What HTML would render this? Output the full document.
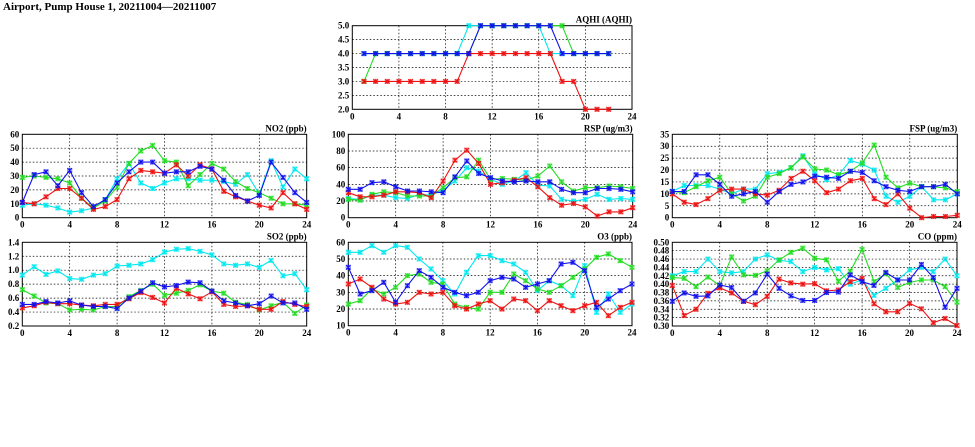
<!DOCTYPE html>
<html><head><meta charset="utf-8"><style>
html,body{margin:0;padding:0;background:#fff;}
svg{display:block;}
text{font-family:"Liberation Serif",serif;font-weight:bold;fill:#000;}
</style></head><body>
<svg id="chart" width="975" height="447" viewBox="0 0 975 447">
<text x="3" y="10" font-size="11">Airport, Pump House 1, 20211004—20211007</text>
</svg>
<script>
const hours=[0,1,2,3,4,5,6,7,8,9,10,11,12,13,14,15,16,17,18,19,20,21,22,23,24];
const xTicks=[0,4,8,12,16,20,24];
// AQHI
const aqhiRed=[null,3,3,3,3,3,3,3,3,3,4,4,4,4,4,4,4,4,3,3,2,2,2,null,null];
const aqhiGreen=[null,3,4,4,4,4,4,4,4,4,4,5,5,5,5,5,5,5,5,4,4,4,4,null,null];
const aqhiCyan=[null,4,4,4,4,4,4,4,4,4,5,5,5,5,5,5,5,4,4,4,4,4,4,null,null];
const aqhiBlue=[null,4,4,4,4,4,4,4,4,4,4,5,5,5,5,5,5,5,4,4,4,4,4,null,null];
const aqhiTicks=[2.0,2.5,3.0,3.5,4.0,4.5,5.0];
// NO2
const no2Cyan=[9,10,9,7,4,5,7,13,28,39,25,21,25,28,28,27,27,26,24,31,17,41,22,35,28];
const no2Green=[29,30,29,28,25,14,7,12,22,39,48,52,41,40,23,31,39,35,26,21,18,14,10,10,9];
const no2Red=[11,10,15,21,21,14,6,8,13,28,34,33,32,38,30,38,35,19,15,12,9,7,18,10,6];
const no2Blue=[11,31,33,23,34,18,8,13,25,33,40,40,32,33,33,37,35,27,16,12,16,40,29,18,11];
const no2Ticks=[0,10,20,30,40,50,60];
// RSP
const rspCyan=[23,22,27,27,24,23,28,27,33,44,60,56,46,40,44,54,39,38,22,20,22,28,22,23,22];
const rspGreen=[22,21,28,31,30,26,26,26,36,48,49,69,46,47,46,45,50,62,43,32,36,36,38,37,35];
const rspRed=[30,25,25,27,31,31,30,24,44,69,81,65,40,42,45,48,37,24,15,17,13,2,7,7,12];
const rspBlue=[34,34,42,43,37,32,32,31,30,49,68,53,48,44,43,44,43,43,34,30,30,35,35,34,31];
const rspTicks=[0,20,40,60,80,100];
// FSP
const fspCyan=[11,13.5,13.5,13.5,12,10,12,12,18.5,19,21,26,18.5,16,18,24,22.5,20,9,6.5,9,13,7.5,7.5,10];
const fspGreen=[11,10.5,13,15.5,17,10,7,9,17,18.5,21,25.5,20.5,20,18,19.5,23,30.5,17,12.5,14.5,13,13,12.5,11];
const fspRed=[10,6.5,5.5,8,11.5,12,12,10,9.5,11.5,16.5,19.5,15.5,10.5,12,15.5,16.5,8,5.5,10,4,0,0.5,0.5,1];
const fspBlue=[11,11,18,18,14,9,10,11,6.5,11,14,15,17.5,17,16.5,19.5,19,15.5,13,11.5,11,13,13,14,10];
const fspTicks=[0,5,10,15,20,25,30,35];
// SO2
const so2Cyan=[.93,1.05,.94,.99,.88,.87,.93,.95,1.06,1.07,1.09,1.15,1.26,1.30,1.31,1.27,1.22,1.09,1.07,1.09,1.04,1.14,.92,.95,.72];
const so2Green=[.72,.63,.53,.52,.43,.44,.43,.48,.48,.62,.71,.80,.64,.67,.71,.79,.70,.67,.54,.51,.43,.49,.54,.38,.50];
const so2Red=[.46,.49,.54,.52,.52,.50,.49,.51,.51,.59,.68,.61,.53,.74,.66,.59,.69,.51,.48,.49,.44,.44,.55,.51,.48];
const so2Blue=[.51,.51,.55,.53,.56,.50,.48,.48,.45,.60,.70,.82,.76,.78,.83,.82,.70,.56,.53,.49,.52,.63,.53,.53,.44];
const so2Ticks=[0.2,0.4,0.6,0.8,1.0,1.2,1.4];
// O3
const o3Cyan=[54,54,58,54,58,57,50,44,37,29,42,52,52,49,47,42,31,37,34,28,46,18,29,18,23];
const o3Green=[23,25,32,29,33,40,41,36,35,23,21,20,30,30,41,37,32,30,34,39,44,51,53,49,45];
const o3Red=[35,38,33,26,23,24,30,29,30,22,20,23,25,20,26,25,19,25,22,19,22,24,16,21,24];
const o3Blue=[45,29,31,36,24,34,43,39,33,30,28,30,37,39,38,33,35,37,47,48,43,21,26,31,35];
const o3Ticks=[10,20,30,40,50,60];
// CO
const coCyan=[.42,.43,.43,.46,.43,.427,.43,.46,.47,.457,.454,.43,.44,.434,.437,.40,.41,.373,.39,.41,.434,.44,.43,.46,.42];
const coGreen=[.416,.414,.394,.417,.396,.465,.422,.421,.432,.458,.476,.486,.462,.458,.407,.431,.483,.406,.425,.392,.404,.41,.41,.394,.357];
const coRed=[.397,.325,.34,.378,.391,.379,.359,.351,.371,.412,.403,.4,.401,.384,.386,.406,.414,.353,.334,.334,.354,.341,.308,.318,.301];
const coBlue=[.359,.379,.371,.372,.398,.392,.359,.379,.424,.39,.372,.361,.361,.38,.381,.422,.406,.397,.428,.41,.41,.447,.416,.345,.39];
const coTicks=[0.30,0.32,0.34,0.36,0.38,0.40,0.42,0.44,0.46,0.48,0.50];

const NS='http://www.w3.org/2000/svg';
const svg=document.getElementById('chart');
function mk(tag,attrs,parent){const e=document.createElementNS(NS,tag);for(const k in attrs)e.setAttribute(k,attrs[k]);(parent||svg).appendChild(e);return e;}
const COLORS={cyan:'#00e8f0',green:'#22dd22',red:'#ee1111',blue:'#1111ee'};

function panel(name,title,box,ticks,dec,series){
  const g=mk('g',{});
  
  
  const [L,T,R,B]=box;
  const ymin=ticks[0],ymax=ticks[ticks.length-1];
  const sx=v=>L+(v-0)/(24-0)*(R-L);
  const sy=v=>B-(v-ymin)/(ymax-ymin)*(B-T);
  ticks.forEach((t,i)=>{
    const y=sy(t);
    if(i>0&&i<ticks.length-1){const gl=mk('line',{x1:L,x2:R,y1:y,y2:y,stroke:'#000','stroke-width':0.7,'stroke-dasharray':'1.5,2'},g);
      }
    const tl=mk('text',{x:L-3,y:y+3,'font-size':9,'text-anchor':'end'},g);
    tl.textContent=t.toFixed(dec);
    
    
  });
  xTicks.forEach((t,i)=>{
    const x=sx(t);
    if(i>0&&i<xTicks.length-1){const gl=mk('line',{x1:x,x2:x,y1:T,y2:B,stroke:'#000','stroke-width':0.7,'stroke-dasharray':'1.5,2'},g);
      }
    const tl=mk('text',{x:x,y:B+10,'font-size':9,'text-anchor':'middle'},g);
    tl.textContent=t;
    
    
  });
  const fr=mk('rect',{x:L,y:T,width:R-L,height:B-T,fill:'none',stroke:'#000','stroke-width':1},g);
  
  
  const tt=mk('text',{x:R,y:T-3,'font-size':9,'text-anchor':'end'},g);
  tt.textContent=title;
  
  
  series.forEach(([cname,vals])=>{
    const c=COLORS[cname];
    const sg=mk('g',{},g);
    
    
    let d='',pen=false;
    vals.forEach((v,i)=>{
      if(v===null){pen=false;return;}
      const yv=Math.max(ymin,Math.min(ymax,v));
      d+=(pen?'L':'M')+sx(hours[i]).toFixed(1)+','+sy(yv).toFixed(1);pen=true;
    });
    const p=mk('path',{d:d,fill:'none',stroke:c,'stroke-width':1.1},sg);
    
    
    vals.forEach((v,i)=>{
      if(v===null)return;
      const yv=Math.max(ymin,Math.min(ymax,v));
      const x=sx(hours[i]),y=sy(yv),r=2.2;
      const bx=mk('rect',{x:x-r,y:y-r,width:2*r,height:2*r,fill:c,'fill-opacity':0.2,stroke:c,'stroke-opacity':0.45,'stroke-width':0.8},sg);
      
      
      const m=mk('path',{d:`M${x-r},${y-r}L${x+r},${y+r}M${x-r},${y+r}L${x+r},${y-r}M${x},${y-r}V${y+r}`,stroke:c,'stroke-width':1,fill:'none'},sg);
      
      
    });
  });
}
panel('aqhi','AQHI (AQHI)',[352.3,25.7,632,109.3],aqhiTicks,1,[['cyan',aqhiCyan],['green',aqhiGreen],['red',aqhiRed],['blue',aqhiBlue]]);
panel('no2','NO2 (ppb)',[22.3,134.3,306.7,217.7],no2Ticks,0,[['cyan',no2Cyan],['green',no2Green],['red',no2Red],['blue',no2Blue]]);
panel('rsp','RSP (ug/m3)',[348.3,134.3,632.7,217.7],rspTicks,0,[['cyan',rspCyan],['green',rspGreen],['red',rspRed],['blue',rspBlue]]);
panel('fsp','FSP (ug/m3)',[672.3,134.3,957.3,217.7],fspTicks,0,[['cyan',fspCyan],['green',fspGreen],['red',fspRed],['blue',fspBlue]]);
panel('so2','SO2 (ppb)',[22.3,242.3,306.7,326],so2Ticks,1,[['cyan',so2Cyan],['green',so2Green],['red',so2Red],['blue',so2Blue]]);
panel('o3','O3 (ppb)',[348.3,242.3,632,325.7],o3Ticks,0,[['cyan',o3Cyan],['green',o3Green],['red',o3Red],['blue',o3Blue]]);
panel('co','CO (ppm)',[672.3,242.3,957,326],coTicks,2,[['cyan',coCyan],['green',coGreen],['red',coRed],['blue',coBlue]]);
</script>
</body></html>
